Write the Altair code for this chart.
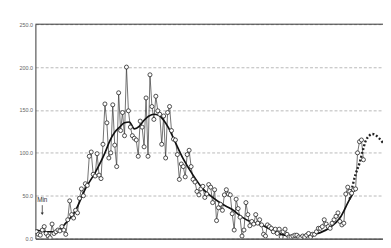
import altair as alt
import pandas as pd

# Monthly values (month index 0..167)
raw_vals = [
    8, 5, 4, 10, 14, 6, 3, 1, 17, 6,
    8, 10, 9, 14, 10, 5, 22, 44, 28, 24,
    33, 30, 47, 58, 50, 64, 62, 96, 101, 75,
    73, 99, 74, 70, 110, 157, 135, 94, 100, 156,
    109, 84, 170, 126, 147, 120, 200, 149, 130, 120,
    117, 115, 96, 137, 130, 107, 164, 96, 191, 154,
    139, 166, 149, 145, 110, 143, 94, 147, 154, 126,
    116, 115, 98, 69, 87, 84, 72, 98, 103, 84,
    69, 66, 55, 51, 58, 61, 48, 52, 63, 60,
    42, 57, 21, 36, 40, 33, 51, 57, 52, 51,
    29, 10, 46, 35, 25, 3, 10, 42, 28, 15,
    20, 17, 28, 18, 22, 16, 5, 3, 16, 14,
    12, 8, 11, 6, 11, 2, 8, 11, 5, 2,
    2, 3, 4, 4, 2, 1, 3, 2, 4, 6,
    2, 5, 5, 8, 12, 12, 14, 22, 17, 14,
    12, 18, 22, 26, 30, 20, 16, 18, 52, 60,
    55, 53, 57, 58, 100, 113, 115, 92,
]
raw_month = list(range(len(raw_vals)))

# Smoothed curve
sm_month = [0, 5, 10, 15, 20, 25, 30, 35, 37.5, 40, 42.5, 45, 47.5, 50, 52.5,
            55, 57.5, 60, 62.5, 65, 67.5, 70, 75, 80, 85, 90, 95, 100, 105,
            110, 115, 120, 125, 130, 135, 140, 145, 150, 155, 160, 161.5]
sm_vals = [10, 8, 8, 18, 33, 58, 77, 100, 114, 124, 130, 135, 136, 128, 131,
           138, 143, 145, 144, 138, 129, 117, 93, 74, 58, 48, 40, 34, 25,
           19, 16, 10, 5, 3, 2, 4, 7, 13, 24, 46, 52]

# Predicted curve (dotted)
pr_month = [160, 161.5, 163, 165, 166.5, 168, 170, 171.5, 173, 175, 176.5, 179]
pr_vals = [46, 62, 75, 88, 101, 113, 120, 122, 121, 117, 113, 108]

raw = pd.DataFrame({"m": raw_month, "v": raw_vals})
sm = pd.DataFrame({"m": sm_month, "v": sm_vals})
pr = pd.DataFrame({"m": pr_month, "v": pr_vals})
top = pd.DataFrame({"v": [250]})
note = pd.DataFrame({"m": [3], "v": [45], "t": ["Min"]})
arrow = pd.DataFrame({"m": [3], "v": [39], "v2": [29]})

xs = alt.Scale(domain=[-0.5, 177], nice=False, zero=False)
ys = alt.Scale(domain=[0, 250], nice=False)

X = alt.X("m:Q", scale=xs, axis=alt.Axis(labels=False, ticks=False, grid=False,
                                         title=None, domainColor="#333",
                                         domainWidth=1.2))
Y = alt.Y("v:Q", scale=ys, axis=alt.Axis(values=[0, 50, 100, 150, 200, 250],
                                         format=".1f", title=None, ticks=False,
                                         labelFontSize=5.5, labelColor="#666",
                                         labelFont="Liberation Sans",
                                         labelPadding=3, grid=True,
                                         gridColor="#9a9a9a", gridDash=[3, 2],
                                         gridWidth=0.7, domainColor="#333",
                                         domainWidth=1))

raw_line = alt.Chart(raw).mark_line(color="#333", strokeWidth=0.7, clip=True).encode(x=X, y=Y)
raw_pts = alt.Chart(raw).mark_point(shape="circle", filled=False, fill="white",
                                    fillOpacity=1, color="#222", size=17,
                                    strokeWidth=0.8, opacity=1, clip=True).encode(x="m:Q", y="v:Q")
sm_line = alt.Chart(sm).mark_line(color="#111", strokeWidth=1.7, interpolate="monotone",
                                  clip=True).encode(x="m:Q", y="v:Q")
pr_line = alt.Chart(pr).mark_line(color="#222", strokeWidth=2.4, strokeDash=[2, 2],
                                  interpolate="monotone", clip=True).encode(x="m:Q", y="v:Q")
top_rule = alt.Chart(top).mark_rule(color="#333", strokeWidth=1).encode(y="v:Q")
note_txt = alt.Chart(note).mark_text(fontSize=6.5, font="Liberation Sans", color="#333",
                                     align="center", baseline="middle").encode(
    x="m:Q", y="v:Q", text="t:N")
arrow_rule = alt.Chart(arrow).mark_rule(color="#333", strokeWidth=0.8).encode(
    x="m:Q", y="v:Q", y2="v2:Q")
arrow_head = alt.Chart(arrow).mark_point(shape="triangle-down", filled=True, color="#333",
                                         size=10, opacity=1).encode(x="m:Q", y="v2:Q")

chart = alt.layer(
    raw_line, sm_line, pr_line, raw_pts, top_rule, note_txt, arrow_rule, arrow_head
).properties(
    width=355, height=219,
    autosize=alt.AutoSizeParams(type="none"),
    padding={"left": 28, "top": 14, "right": 0, "bottom": 5},
    background="white",
).configure_view(stroke=None)

chart.save("out.html", embed_options={"renderer": "svg", "actions": False})
